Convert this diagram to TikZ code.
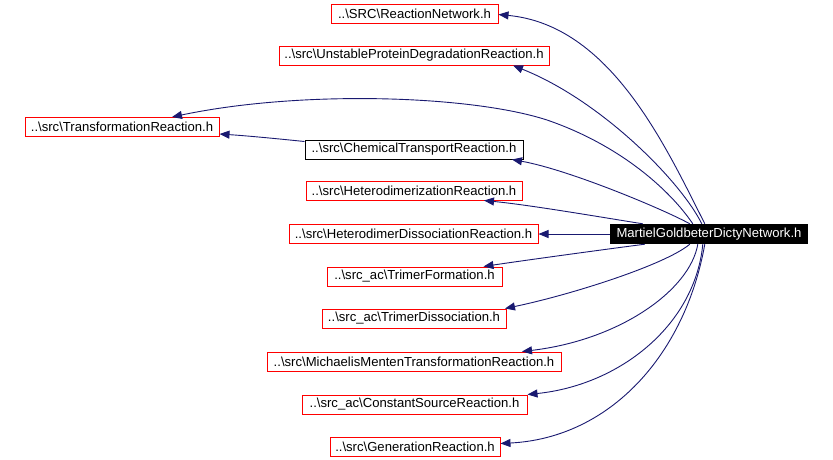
\documentclass[tikz,border=0pt]{standalone}
\usepackage{fontspec}
\setmainfont{Liberation Sans}
\usetikzlibrary{arrows.meta}
\definecolor{edgeblue}{HTML}{191970}
\newcommand{\bs}{\textbackslash}
\begin{document}
\begin{tikzpicture}[x=1pt,y=-1pt,
  file/.style={draw=red, line width=1pt, inner sep=0pt, minimum height=19pt,
    font=\fontsize{13.1}{14}\selectfont},
  plainfile/.style={file, draw=black},
  mainfile/.style={fill=black, text=white, inner sep=0pt, minimum height=20pt,
    minimum width=198pt, font=\fontsize{13.1}{14}\selectfont},
  dep/.style={draw=edgeblue, line width=0.9pt,
    -{Triangle[length=10pt,width=8pt]}}
]
\useasboundingbox (0,0) rectangle (833,459);

\node[file, minimum width=167pt] (rn) at (414.5,13.5) {..\bs SRC\bs ReactionNetwork.h};
\node[file, minimum width=270pt] (up) at (414,55.5) {..\bs src\bs UnstableProteinDegradationReaction.h};
\node[file, minimum width=194pt] (tr) at (122,127) {..\bs src\bs TransformationReaction.h};
\node[plainfile, minimum width=218pt] (ct) at (414,149.5) {..\bs src\bs ChemicalTransportReaction.h};
\node[file, minimum width=216pt] (hz) at (414,190.5) {..\bs src\bs HeterodimerizationReaction.h};
\node[file, minimum width=249pt] (hd) at (413.5,234) {..\bs src\bs HeterodimerDissociationReaction.h};
\node[file, minimum width=175pt] (tf) at (414.5,276.5) {..\bs src\_ac\bs TrimerFormation.h};
\node[file, minimum width=184pt] (td) at (414,318.5) {..\bs src\_ac\bs TrimerDissociation.h};
\node[file, minimum width=294pt] (mm) at (414,361.5) {..\bs src\bs MichaelisMentenTransformationReaction.h};
\node[file, minimum width=225pt] (cs) at (414.5,404.5) {..\bs src\_ac\bs ConstantSourceReaction.h};
\node[file, minimum width=170pt] (gr) at (415,446.5) {..\bs src\bs GenerationReaction.h};
\node[mainfile] (mg) at (709,234) {MartielGoldbeterDictyNetwork.h};

% edges
\draw[dep] ([xshift=95pt]mg.north west) .. controls (665,145) and (610,25) .. ([yshift=-1pt]rn.east);
\draw[dep] ([xshift=92pt]mg.north west) .. controls (680,180) and (600,100) .. ([xshift=99pt]up.south);
\draw[dep] ([xshift=83pt]mg.north west) .. controls (670,190) and (620,145) .. (547,120)
   .. controls (470,95) and (300,90) .. ([xshift=50pt]tr.north);
\draw[dep] ([xshift=80pt]mg.north west) .. controls (665,210) and (570,170) .. ([xshift=98pt]ct.south);
\draw[dep] ([yshift=8pt]ct.west) .. controls (280,139) and (250,136) .. ([yshift=-7pt]tr.east);
\draw[dep] ([xshift=33pt]mg.north west) .. controls (600,217) and (530,205) .. ([xshift=70pt]hz.south);
\draw[dep] (mg.west) -- (hd.east);
\draw[dep] ([xshift=35pt]mg.south west) .. controls (600,250) and (520,261) .. ([xshift=69pt]tf.north);
\draw[dep] ([xshift=80pt]mg.south west) .. controls (665,265) and (570,295) .. ([xshift=91pt]td.north);
\draw[dep] ([xshift=88pt]mg.south west) .. controls (690,290) and (620,340) .. ([xshift=108pt]mm.north);
\draw[dep] ([xshift=93pt]mg.south west) .. controls (695,325) and (620,385) .. ([xshift=113pt]cs.north);
\draw[dep] ([xshift=95pt]mg.south west) .. controls (685,355) and (610,438) .. ([yshift=3pt]gr.east);
\end{tikzpicture}
\end{document}
